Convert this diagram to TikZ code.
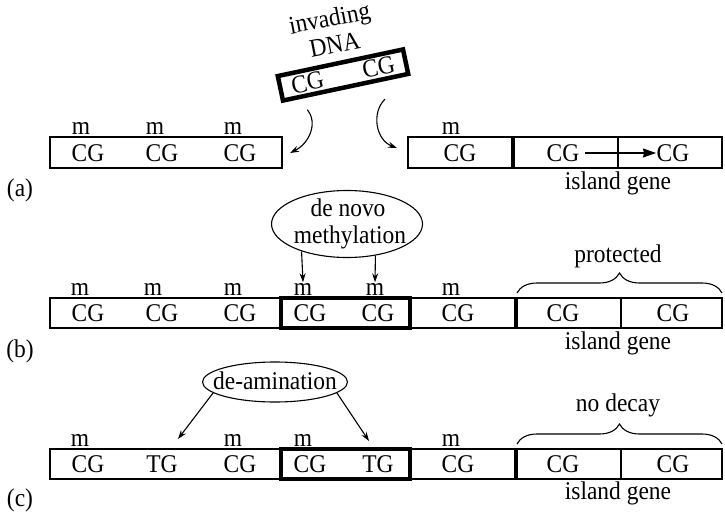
\documentclass[tikz,border=0pt]{standalone}
\usepackage{fontspec}
\setmainfont{Liberation Serif}[FakeStretch=0.92]
\usetikzlibrary{arrows.meta,decorations.pathreplacing,shapes.geometric,calc}
\begin{document}
\begin{tikzpicture}[x=1pt,y=-1pt,
  txt/.style={font=\fontsize{25.5}{28}\selectfont, inner sep=0.5pt},
  strand/.style={line width=1.2pt},
  thickstrand/.style={line width=3.5pt},
  smallarr/.style={line width=1.1pt,-{Stealth[length=9pt,width=6pt]}},
  bigarr/.style={line width=1.1pt,-{Stealth[length=13pt,width=9pt,inset=1pt]}},
  oval/.style={ellipse,draw,line width=1.1pt,inner sep=0pt},
  bracestyle/.style={line width=1.1pt,decorate,decoration={brace,amplitude=20pt}}
]
\useasboundingbox (0,0) rectangle (725,516);

% ---------------- invading DNA ----------------
\node[txt,rotate=11,align=center,font=\fontsize{25.5}{27}\selectfont] (invt) at (332,31) {invading\\DNA};
\node[txt,draw,line width=4.5pt,rotate=12,minimum width=128pt,minimum height=25pt] (inv) at (343,75) {CG\hspace{40pt}CG};
\coordinate (la) at (290,153);
\coordinate (ra) at (397,148);
\draw[smallarr] ($(inv.south west)!0.2!(inv.south east)+(0,12)$) .. controls (318,122) and (310,143) .. (la);
\draw[smallarr] ($(inv.south west)!0.8!(inv.south east)+(0,18)$) .. controls (371,113) and (376,140) .. (ra);

% ---------------- row (a) ----------------
\draw[strand] (50,137) rectangle (282,168);
\draw[strand] (408,137) rectangle (722,168);
\draw[thickstrand] (513,137) -- (513,168);
\draw[strand] (618,137) -- (618,168);
\foreach \x [count=\i] in {88,162,240} {
  \node[txt] (acg\i) at (\x,153) {CG};
  \node[txt] (am\i) at ({\x-7},128) {m};
}
\node[txt] (am4) at (451,128) {m};
\node[txt] (acg4) at (460,153) {CG};
\node[txt] (acg5) at (563,153) {CG};
\node[txt] (acg6) at (673,153) {CG};
\draw[bigarr,shorten <=5pt] (acg5) -- (acg6);
\node[txt] (aisl) at (618,183) {island gene};
\node[txt] (alab) at (20,190) {(a)};

% ---------------- row (b) ----------------
\draw[strand] (50,298) rectangle (722,328);
\draw[thickstrand] (281,298) rectangle (410,328);
\draw[thickstrand] (516,298) -- (516,328);
\draw[strand] (621,298) -- (621,328);
\foreach \x/\t [count=\i] in {88/CG,162/CG,240/CG,310/CG,378/CG,458/CG,563/CG,673/CG} {
  \node[txt] (bcg\i) at (\x,313) {\t};
}
\foreach \x [count=\i] in {80,153,233,303,375,451} {
  \node[txt] (bm\i) at (\x,289) {m};
}
\node[oval,minimum width=151pt,minimum height=67pt] (dn) at (347,224) {};
\node[txt] (dn1) at (348,208) {de novo};
\node[txt] (dn2) at (350,237) {methylation};
\draw[smallarr] (dn.211.5) -- (bm4.north);
\draw[smallarr] (dn.312) -- (bm5.north);
\draw[bracestyle] (517,293) -- (722,293);
\node[txt] (prot) at (618,256) {protected};
\node[txt] (bisl) at (618,343) {island gene};
\node[txt] (blab) at (20,351) {(b)};

% ---------------- row (c) ----------------
\draw[strand] (50,449) rectangle (722,479);
\draw[thickstrand] (281,449) rectangle (410,479);
\draw[thickstrand] (516,449) -- (516,479);
\draw[strand] (621,449) -- (621,479);
\foreach \x/\t [count=\i] in {88/CG,162/TG,240/CG,310/CG,378/TG,458/CG,563/CG,673/CG} {
  \node[txt] (ccg\i) at (\x,464) {\t};
}
\foreach \x [count=\i] in {80,233,303,451} {
  \node[txt] (cm\i) at (\x,440) {m};
}
\node[oval,minimum width=145pt,minimum height=40pt] (da) at (275,382) {};
\node[txt] (dat) at (275,381) {de-amination};
\coordinate (dl) at (178,439);
\coordinate (dr) at (369,441);
\draw[smallarr] (da.-170) -- (dl);
\draw[smallarr] (da.-10) -- (dr);
\draw[bracestyle] (517,444) -- (722,444);
\node[txt] (nod) at (618,405) {no decay};
\node[txt] (cisl) at (618,493) {island gene};
\node[txt] (clab) at (20,500) {(c)};
\end{tikzpicture}
\end{document}
